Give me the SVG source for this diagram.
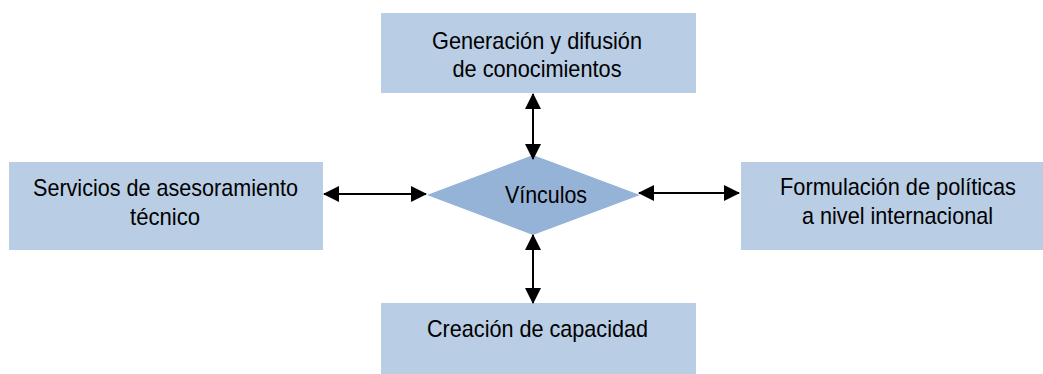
<svg xmlns="http://www.w3.org/2000/svg" width="1043" height="374" viewBox="0 0 1043 374">
<style>
.box{fill:#B9CDE5;}
.dia{fill:#95B3D7;}
.t{font-family:"Liberation Sans",Arial,sans-serif;font-size:24px;fill:#000;text-anchor:middle;}
.c{stroke:#000;stroke-width:2;fill:none;marker-start:url(#ah);marker-end:url(#ah);}
</style>
<defs>
<marker id="ah" viewBox="0 0 16 16" refX="15" refY="8" markerWidth="16" markerHeight="16" markerUnits="userSpaceOnUse" orient="auto-start-reverse">
<path d="M0,0 L16,8 L0,16 Z" fill="#000"/>
</marker>
</defs>
<rect width="1043" height="374" fill="#fff"/>
<g id="top">
<rect class="box" x="381" y="13" width="315" height="80"/>
<text class="t" x="537" y="49" textLength="210" lengthAdjust="spacingAndGlyphs">Generación y difusión</text>
<text class="t" x="537" y="77" textLength="169" lengthAdjust="spacingAndGlyphs">de conocimientos</text>
</g>
<g id="left">
<rect class="box" x="9" y="162" width="314" height="88"/>
<text class="t" x="165.5" y="196" textLength="265" lengthAdjust="spacingAndGlyphs">Servicios de asesoramiento</text>
<text class="t" x="165" y="225" textLength="70" lengthAdjust="spacingAndGlyphs">técnico</text>
</g>
<g id="right">
<rect class="box" x="741" y="162" width="302" height="88"/>
<text class="t" x="898" y="195" textLength="236" lengthAdjust="spacingAndGlyphs">Formulación de políticas</text>
<text class="t" x="897.5" y="224" textLength="191" lengthAdjust="spacingAndGlyphs">a nivel internacional</text>
</g>
<g id="bottom">
<rect class="box" x="381" y="303" width="315" height="71"/>
<text class="t" x="537.5" y="337" textLength="221" lengthAdjust="spacingAndGlyphs">Creación de capacidad</text>
</g>
<g id="center">
<polygon class="dia" points="533,155 640,195 533,235 427,195"/>
<text class="t" x="546" y="203" textLength="82" lengthAdjust="spacingAndGlyphs">Vínculos</text>
</g>
<g id="connectors">
<line class="c" x1="533" y1="94" x2="533" y2="159"/>
<line class="c" x1="533" y1="235" x2="533" y2="303"/>
<line class="c" x1="324" y1="194" x2="426" y2="194"/>
<line class="c" x1="639" y1="193" x2="739" y2="193"/>
</g>
</svg>
